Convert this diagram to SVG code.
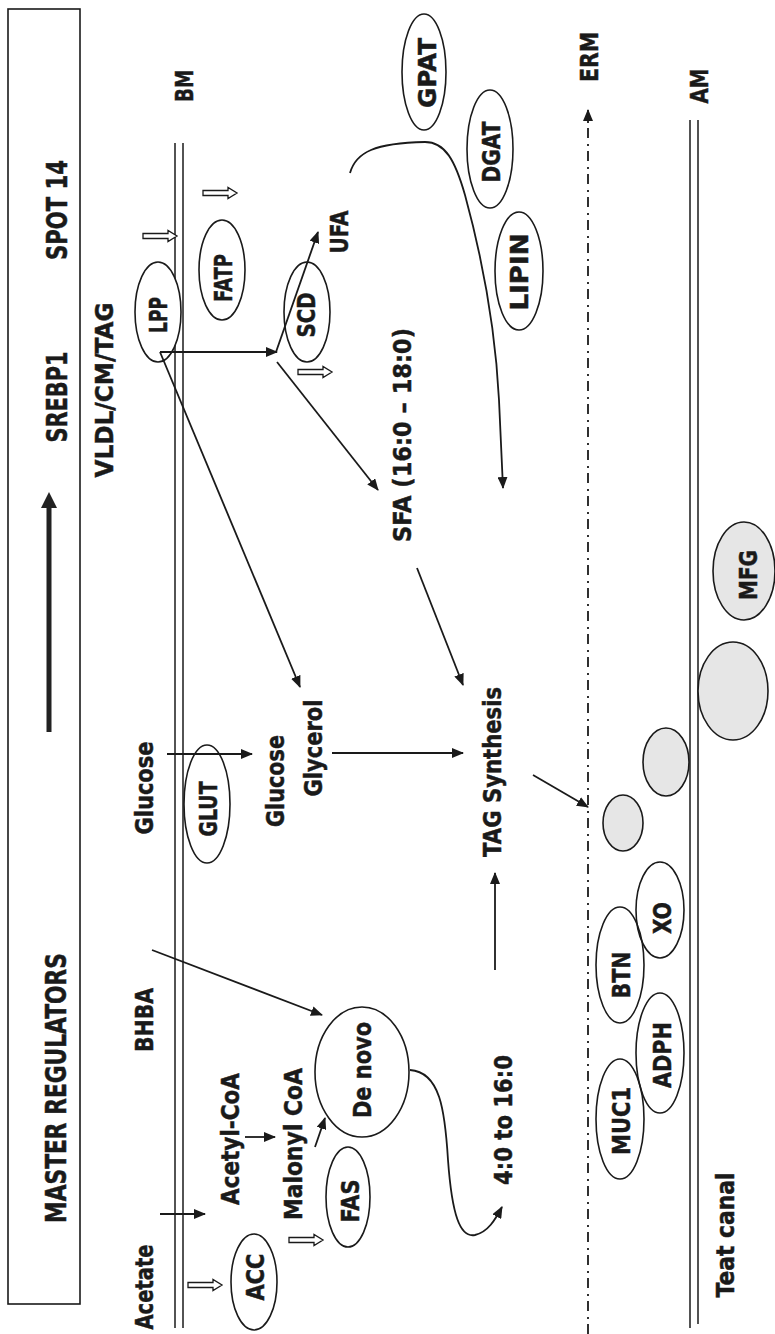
<svg xmlns="http://www.w3.org/2000/svg" width="775" height="1334" viewBox="0 0 775 1334">
<style>
.t{font-family:"DejaVu Sans",Verdana,sans-serif;font-weight:bold;font-size:25px;fill:#1a1a1a;stroke:#1a1a1a;stroke-width:0.5;text-anchor:middle}
.big{font-size:28px}
.sm{font-size:24px}
.ell{fill:#fff;stroke:#1a1a1a;stroke-width:1.6}
.ell2{fill:none;stroke:#1a1a1a;stroke-width:1.6}
.blob{fill:#e6e6e6;stroke:#1a1a1a;stroke-width:1.6}
.arr{fill:none;stroke:#1a1a1a;stroke-width:1.8;marker-end:url(#ah)}
.mem{fill:none;stroke:#1a1a1a;stroke-width:1.5}
.hollow{fill:#fff;stroke:#1a1a1a;stroke-width:1.3}
</style>
<defs>
<marker id="ah" viewBox="0 0 12 10" refX="11" refY="5" markerWidth="12" markerHeight="10" markerUnits="userSpaceOnUse" orient="auto">
<path d="M0,0 L12,5 L0,10 z" fill="#1a1a1a"/>
</marker>
<path id="ha" d="M0,-2.5 L25,-2.5 L25,-5.5 L34,0 L25,5.5 L25,2.5 L0,2.5 Z"/>
</defs>
<rect width="775" height="1334" fill="#fff"/>

<g id="regulators">
<rect x="8" y="9" width="72" height="1295" fill="none" stroke="#1a1a1a" stroke-width="1.6"/>
<text class="t big" x="67" y="210" transform="rotate(-90 67 210)" textLength="100" lengthAdjust="spacingAndGlyphs">SPOT 14</text>
<text class="t big" x="67" y="397" transform="rotate(-90 67 397)" textLength="91" lengthAdjust="spacingAndGlyphs">SREBP1</text>
<text class="t big" x="66" y="1088" transform="rotate(-90 66 1088)" textLength="270" lengthAdjust="spacingAndGlyphs">MASTER REGULATORS</text>
<line x1="49" y1="732" x2="49" y2="505" stroke="#222" stroke-width="5"/>
<path d="M49,492 L57,508 L41,508 Z" fill="#222"/>
</g>

<g id="membranes">
<line class="mem" x1="175" y1="143" x2="175" y2="1328"/>
<line class="mem" x1="183" y1="143" x2="183" y2="1328"/>
<line class="mem" x1="690" y1="120" x2="690" y2="1328"/>
<line class="mem" x1="698" y1="120" x2="698" y2="1324"/>
<text class="t" x="193" y="86" transform="rotate(-90 193 86)" textLength="32" lengthAdjust="spacingAndGlyphs">BM</text>
<text class="t" x="708" y="86" transform="rotate(-90 708 86)" textLength="35" lengthAdjust="spacingAndGlyphs">AM</text>
<text class="t" x="598" y="57" transform="rotate(-90 598 57)" textLength="50" lengthAdjust="spacingAndGlyphs">ERM</text>
<text class="t" x="734" y="1235" transform="rotate(-90 734 1235)" textLength="125" lengthAdjust="spacingAndGlyphs">Teat canal</text>
</g>

<g id="labels">
<text class="t" x="113" y="390" transform="rotate(-90 113 390)" textLength="175" lengthAdjust="spacingAndGlyphs">VLDL/CM/TAG</text>
<text class="t" x="153" y="788" transform="rotate(-90 153 788)" textLength="93" lengthAdjust="spacingAndGlyphs">Glucose</text>
<text class="t" x="153" y="1020" transform="rotate(-90 153 1020)" textLength="64" lengthAdjust="spacingAndGlyphs">BHBA</text>
<text class="t" x="153" y="1287" transform="rotate(-90 153 1287)" textLength="85" lengthAdjust="spacingAndGlyphs">Acetate</text>
<text class="t" x="239" y="1139" transform="rotate(-90 239 1139)" textLength="132" lengthAdjust="spacingAndGlyphs">Acetyl-CoA</text>
<text class="t" x="302" y="1144" transform="rotate(-90 302 1144)" textLength="152" lengthAdjust="spacingAndGlyphs">Malonyl CoA</text>
<text class="t" x="284" y="781" transform="rotate(-90 284 781)" textLength="92" lengthAdjust="spacingAndGlyphs">Glucose</text>
<text class="t" x="322" y="748" transform="rotate(-90 322 748)" textLength="97" lengthAdjust="spacingAndGlyphs">Glycerol</text>
<text class="t" x="348" y="232" transform="rotate(-90 348 232)" textLength="43" lengthAdjust="spacingAndGlyphs">UFA</text>
<text class="t" x="411" y="435" transform="rotate(-90 411 435)" textLength="214" lengthAdjust="spacingAndGlyphs">SFA (16:0 – 18:0)</text>
<text class="t" x="501" y="772" transform="rotate(-90 501 772)" textLength="170" lengthAdjust="spacingAndGlyphs">TAG Synthesis</text>
<text class="t" x="512" y="1120" transform="rotate(-90 512 1120)" textLength="130" lengthAdjust="spacingAndGlyphs">4:0 to 16:0</text>
</g>

<g id="LPP"><ellipse class="ell" cx="158" cy="312" rx="23" ry="50"/>
<text class="t sm" x="167" y="315" transform="rotate(-90 167 315)" textLength="36" lengthAdjust="spacingAndGlyphs">LPP</text></g>
<g id="FATP"><ellipse class="ell" cx="222" cy="270" rx="23" ry="50"/>
<text class="t sm" x="232" y="278" transform="rotate(-90 232 278)" textLength="48" lengthAdjust="spacingAndGlyphs">FATP</text></g>
<g id="SCD"><ellipse class="ell" cx="307" cy="312" rx="23" ry="50"/>
<text class="t sm" x="315" y="315" transform="rotate(-90 315 315)" textLength="45" lengthAdjust="spacingAndGlyphs">SCD</text></g>
<g id="GPAT"><ellipse class="ell" cx="424" cy="72" rx="22" ry="58"/>
<text class="t sm" x="436" y="73" transform="rotate(-90 436 73)" textLength="70" lengthAdjust="spacingAndGlyphs">GPAT</text></g>
<g id="DGAT"><ellipse class="ell" cx="490" cy="149" rx="23" ry="59"/>
<text class="t sm" x="500" y="152" transform="rotate(-90 500 152)" textLength="61" lengthAdjust="spacingAndGlyphs">DGAT</text></g>
<g id="LIPIN"><ellipse class="ell" cx="519" cy="271" rx="24" ry="59"/>
<text class="t sm" x="528" y="272" transform="rotate(-90 528 272)" textLength="77" lengthAdjust="spacingAndGlyphs">LIPIN</text></g>
<g id="GLUT"><ellipse class="ell" cx="207" cy="804" rx="23" ry="59"/>
<text class="t sm" x="217" y="809" transform="rotate(-90 217 809)" textLength="55" lengthAdjust="spacingAndGlyphs">GLUT</text></g>
<g id="ACC"><ellipse class="ell" cx="254" cy="1282" rx="23" ry="48"/>
<text class="t sm" x="264" y="1277" transform="rotate(-90 264 1277)" textLength="47" lengthAdjust="spacingAndGlyphs">ACC</text></g>
<g id="FAS"><ellipse class="ell" cx="348" cy="1197" rx="22" ry="50"/>
<text class="t sm" x="359" y="1201" transform="rotate(-90 359 1201)" textLength="43" lengthAdjust="spacingAndGlyphs">FAS</text></g>
<g id="DeNovo"><ellipse class="ell" cx="362" cy="1072" rx="47" ry="65"/>
<text class="t" x="371" y="1070" transform="rotate(-90 371 1070)" textLength="96" lengthAdjust="spacingAndGlyphs">De novo</text></g>

<g id="droplets">
<ellipse class="blob" cx="623" cy="823" rx="20" ry="28"/>
<ellipse class="blob" cx="666" cy="762" rx="23" ry="34"/>
<ellipse class="blob" cx="733" cy="691" rx="35" ry="49"/>
</g>
<g id="MFG"><ellipse class="blob" cx="744" cy="571" rx="31" ry="49"/>
<text class="t sm" x="757" y="575" transform="rotate(-90 757 575)" textLength="50" lengthAdjust="spacingAndGlyphs">MFG</text></g>
<g id="XO"><ellipse class="ell2" cx="660" cy="910" rx="24" ry="48"/>
<text class="t sm" x="671" y="918" transform="rotate(-90 671 918)" textLength="32" lengthAdjust="spacingAndGlyphs">XO</text></g>
<g id="BTN"><ellipse class="ell2" cx="620" cy="965" rx="24" ry="58"/>
<text class="t sm" x="630" y="975" transform="rotate(-90 630 975)" textLength="47" lengthAdjust="spacingAndGlyphs">BTN</text></g>
<g id="ADPH"><ellipse class="ell2" cx="660" cy="1053" rx="24" ry="60"/>
<text class="t sm" x="671" y="1055" transform="rotate(-90 671 1055)" textLength="66" lengthAdjust="spacingAndGlyphs">ADPH</text></g>
<g id="MUC1"><ellipse class="ell2" cx="620" cy="1119" rx="24" ry="60"/>
<text class="t sm" x="630" y="1121" transform="rotate(-90 630 1121)" textLength="68" lengthAdjust="spacingAndGlyphs">MUC1</text></g>

<g id="connectors">
<path class="arr" d="M167,754 L252,754"/>
<path class="arr" d="M160,1214 L205,1214"/>
<path class="arr" d="M245,1137 L275,1137"/>
<path class="arr" d="M315,1147 L325,1118"/>
<path class="arr" d="M152,950 L322,1015"/>
<path class="arr" d="M410,1070 C440,1072 445,1110 448,1160 C452,1215 460,1238 475,1235 C488,1232 495,1220 502,1207"/>
<path class="arr" d="M495,970 L495,873"/>
<path class="arr" d="M160,352 L277,352"/>
<path class="arr" d="M160,352 L300,687"/>
<path class="arr" d="M276,352 L318,232"/>
<path class="arr" d="M277,362 L378,490"/>
<path class="arr" d="M332,753 L463,753"/>
<path class="arr" d="M417,568 L463,685"/>
<path class="arr" d="M350,173 C356,152 375,143 425,142 C445,142 455,160 465,195 C480,250 495,320 499,400 L503,488"/>
<path class="arr" d="M533,775 L588,807"/>
<path class="arr" d="M588,1334 L588,110" stroke-width="2.2" stroke-dasharray="10 5 2 6"/>
<use href="#ha" class="hollow" transform="translate(203,193)"/>
<use href="#ha" class="hollow" transform="translate(143,236)"/>
<use href="#ha" class="hollow" transform="translate(298,372)"/>
<use href="#ha" class="hollow" transform="translate(188,1285)"/>
<use href="#ha" class="hollow" transform="translate(289,1240)"/>
</g>
</svg>
